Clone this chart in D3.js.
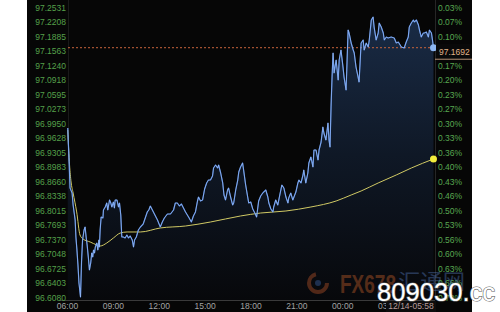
<!DOCTYPE html>
<html><head><meta charset="utf-8">
<script src="https://cdn.jsdelivr.net/npm/d3@7/dist/d3.min.js"></script>
<style>html,body{margin:0;padding:0;background:#fff;}svg{display:block}</style>
</head><body><svg id="c" width="500" height="312"></svg>
<script>
// ---- data ----
const priceTicks = [97.2531,97.2208,97.1885,97.1563,97.1240,97.0918,97.0595,97.0273,96.9950,96.9628,96.9305,96.8983,96.8660,96.8338,96.8015,96.7693,96.7370,96.7048,96.6725,96.6403,96.6080];
const pctLabels = ["0.03%","0.07%","0.10%","0.13%","0.17%","0.20%","0.23%","0.27%","0.30%","0.33%","0.36%","0.40%","0.43%","0.46%","0.50%","0.53%","0.56%","0.60%","0.63%","0.66%","0.70%"];
const timeTicks = [0,180,360,540,720,900,1080,1260];
const timeLabels = ["06:00","09:00","12:00","15:00","18:00","21:00","00:00","03:00"];
const lastPrice = 97.1692;
const lastStamp = "12/14-05:58";
// minutes since 06:00
const priceMinutes = [3,8,12,20,24,32,35,39,43,47,53,57,61,67,71,75,79,84,88,93,97,101,104,108,111,117,121,125,127,130,134,141,143,150,156,160,167,172,176,182,186,189,196,202,206,211,215,221,228,235,241,248,256,261,265,272,280,288,299,307,315,321,327,335,343,355,366,374,382,394,406,418,425,433,441,449,457,465,477,488,496,504,512,516,524,532,540,548,555,563,571,575,583,591,595,603,611,616,622,630,634,642,650,654,662,670,674,681,689,693,701,709,713,721,729,737,744,752,760,768,780,788,792,800,808,811,819,827,835,843,851,859,867,870,878,886,898,906,910,918,926,929,937,945,949,957,965,969,977,985,989,997,1004,1008,1016,1024,1028,1032,1036,1040,1044,1048,1056,1064,1068,1075,1083,1087,1095,1103,1107,1115,1123,1127,1134,1142,1146,1154,1162,1166,1174,1182,1186,1194,1201,1205,1213,1221,1225,1233,1241,1245,1253,1260,1272,1284,1292,1300,1312,1323,1331,1339,1343,1351,1359,1363,1371,1379,1383,1390,1398,1402,1410,1418,1422,1430,1434,1438];
const priceValues = [96.9906,96.9194,96.8571,96.8460,96.8193,96.7860,96.7481,96.7192,96.6859,96.6458,96.6147,96.6925,96.7415,96.7637,96.7704,96.7481,96.7304,96.7014,96.6747,96.6903,96.7126,96.7037,96.7192,96.7126,96.7259,96.7348,96.7192,96.7415,96.7259,96.7637,96.7926,96.7904,96.8082,96.8149,96.8238,96.8082,96.8305,96.8238,96.8149,96.8260,96.8127,96.8305,96.8305,96.8149,96.8238,96.7971,96.7481,96.7481,96.7459,96.7526,96.7459,96.7504,96.7415,96.7259,96.7415,96.7481,96.7637,96.7704,96.7771,96.7904,96.8038,96.8082,96.8171,96.8082,96.7993,96.7860,96.7704,96.7815,96.7904,96.7993,96.7993,96.8082,96.8238,96.8238,96.8171,96.8216,96.8127,96.8038,96.7926,96.7815,96.7949,96.8038,96.8282,96.8371,96.8282,96.8305,96.8549,96.8683,96.8749,96.8749,96.8838,96.9016,96.9083,96.9016,96.9083,96.8905,96.8683,96.8416,96.8305,96.8527,96.8571,96.8371,96.8193,96.8238,96.8527,96.8749,96.8927,96.9039,96.9128,96.8972,96.8638,96.8371,96.8238,96.8260,96.8104,96.8015,96.7926,96.8282,96.8394,96.8460,96.8527,96.8371,96.8238,96.8104,96.8038,96.8149,96.8305,96.8193,96.8416,96.8638,96.8571,96.8371,96.8238,96.8349,96.8460,96.8305,96.8482,96.8683,96.8749,96.8683,96.8861,96.8972,96.8683,96.8905,96.9128,96.9261,96.9039,96.9417,96.9417,96.9194,96.9417,96.9595,96.9928,96.9795,96.9639,97.0017,96.9639,96.9484,97.0373,97.1041,97.1575,97.1130,97.1419,97.0974,97.1419,97.1641,97.1263,97.1041,97.0752,97.2086,97.2019,97.1797,97.1641,97.1575,97.1263,97.1041,97.0929,97.1797,97.1864,97.1641,97.1797,97.1708,97.1864,97.2309,97.2375,97.2153,97.1864,97.2019,97.2242,97.2153,97.2019,97.1864,97.1930,97.1908,97.1930,97.1908,97.1797,97.1819,97.1708,97.1686,97.1819,97.1930,97.2153,97.2242,97.2309,97.2264,97.2309,97.2197,97.2086,97.1930,97.2019,97.2019,97.2042,97.1930,97.2086,97.2019,97.1864,97.1692];
const maMinutes = [3,10,16,24,38,51,63,91,117,130,156,182,209,236,288,366,465,563,681,760,859,957,1056,1115,1154,1221,1292,1351,1438];
const maValues = [96.9862,96.9083,96.8705,96.8460,96.8038,96.7526,96.7437,96.7370,96.7304,96.7281,96.7348,96.7459,96.7570,96.7593,96.7593,96.7682,96.7726,96.7815,96.7949,96.8015,96.8060,96.8149,96.8282,96.8416,96.8505,96.8683,96.8861,96.9016,96.9217];

// ---- drawing ----
const svg = d3.select("#c");
const FONT = "'Liberation Sans', Arial, sans-serif";
svg.append("rect").attr("x",27).attr("y",0).attr("width",445).attr("height",312).attr("fill","#060606");

const x = d3.scaleLinear().domain([0,1440]).range([67,434]);
const y = d3.scaleLinear().domain([96.6080,97.2531]).range([300,10]);

const defs = svg.append("defs");
const g = defs.append("linearGradient").attr("id","ag").attr("gradientUnits","userSpaceOnUse")
  .attr("x1",0).attr("y1",10).attr("x2",0).attr("y2",300);
g.append("stop").attr("offset","0%").attr("stop-color","#1a2c47");
g.append("stop").attr("offset","50%").attr("stop-color","#0f1826");
g.append("stop").attr("offset","100%").attr("stop-color","#07080b");

const price = priceMinutes.map((m,i)=>({m, p: priceValues[i]}));
const ma = maMinutes.map((m,i)=>({m, p: maValues[i]}));

// frame lines
svg.append("line").attr("x1",68.5).attr("x2",68.5).attr("y1",0).attr("y2",300).attr("stroke","#1a1a1a");
svg.append("line").attr("x1",435.5).attr("x2",435.5).attr("y1",0).attr("y2",300).attr("stroke","#262626");
svg.append("line").attr("x1",60).attr("x2",435).attr("y1",300.5).attr("y2",300.5).attr("stroke","#3a3a3a");

svg.append("path").datum(price)
  .attr("d", d3.area().x(d=>x(d.m)).y0(300).y1(d=>y(d.p)))
  .attr("fill","url(#ag)");

svg.append("line").attr("x1",x(0)+1).attr("x2",x(1438)).attr("y1",y(lastPrice)).attr("y2",y(lastPrice))
  .attr("stroke","#c8643c").attr("stroke-dasharray","2,2").attr("stroke-width",1);

svg.append("path").datum(ma)
  .attr("d", d3.line().x(d=>x(d.m)).y(d=>y(d.p)).curve(d3.curveMonotoneX))
  .attr("fill","none").attr("stroke","#d0c964").attr("stroke-width",1);

svg.append("path").datum(price)
  .attr("d", d3.line().x(d=>x(d.m)).y(d=>y(d.p)))
  .attr("fill","none").attr("stroke","#5587dc").attr("stroke-width",1.2).attr("stroke-linejoin","round");
svg.append("path").datum(price)
  .attr("d", d3.line().x(d=>x(d.m)).y(d=>y(d.p)))
  .attr("fill","none").attr("stroke","#a9c7fa").attr("stroke-width",0.5).attr("stroke-linejoin","round");

const lp = price[price.length-1], lm = ma[ma.length-1];
svg.append("circle").attr("cx",x(lp.m)).attr("cy",y(lp.p)).attr("r",3.5).attr("fill","#8db6f2");
svg.append("circle").attr("cx",x(lm.m)).attr("cy",y(lm.p)).attr("r",3.5).attr("fill","#f2ee3c");

// axes
function styleAxis(sel, color){
  sel.select(".domain").remove();
  sel.selectAll("text").attr("fill",color).style("font-family",FONT).style("font-size","8.5px");
}
const left = svg.append("g").attr("transform","translate(68,0)")
  .call(d3.axisLeft(y).tickValues(priceTicks).tickFormat(d3.format(".4f")).tickSize(0).tickPadding(2));
styleAxis(left,"#55a04a");
left.selectAll("text").attr("dy","0em");

const right = svg.append("g").attr("transform","translate(435,0)")
  .call(d3.axisRight(y).tickValues(priceTicks).tickFormat((d,i)=>pctLabels[i]).tickSize(0).tickPadding(3));
styleAxis(right,"#58a650");
right.selectAll("text").attr("dy","0em");

const bottom = svg.append("g").attr("transform","translate(0,300)")
  .call(d3.axisBottom(x).tickValues(timeTicks).tickFormat((d,i)=>timeLabels[i]).tickSize(0).tickPadding(3));
styleAxis(bottom,"#a3a3a3");

// current price tag
const ty = y(lastPrice);
svg.append("rect").attr("x",436).attr("y",ty-4).attr("width",36).attr("height",15).attr("fill","#090909");
svg.append("line").attr("x1",435).attr("x2",472).attr("y1",ty+11.5).attr("y2",ty+11.5).attr("stroke","#b89478");
svg.append("text").attr("x",439).attr("y",ty+7.5).text(lastPrice.toFixed(4))
  .attr("fill","#e2b48a").style("font-family",FONT).style("font-size","8.5px");

// time stamp tag
svg.append("rect").attr("x",386).attr("y",301).attr("width",50).attr("height",11).attr("fill","#0d0d0d");
svg.append("text").attr("x",411).attr("y",309).attr("text-anchor","middle").text(lastStamp)
  .attr("fill","#b89c9c").style("font-family",FONT).style("font-size","8.5px");

// watermarks
const wm = svg.append("g");
wm.append("circle").attr("cx",318).attr("cy",283).attr("r",9).attr("fill","none")
  .attr("stroke","#c0582a").attr("stroke-width",4).attr("opacity",0.4).attr("stroke-dasharray","40,17");
wm.append("circle").attr("cx",318).attr("cy",283).attr("r",3).attr("fill","#3a5fa0").attr("opacity",0.45);
wm.append("text").attr("x",340).attr("y",293).text("FX678")
  .attr("textLength",56).attr("lengthAdjust","spacingAndGlyphs")
  .attr("fill","#c8602a").attr("opacity",0.4).style("font-family",FONT).style("font-weight","bold").style("font-size","25px");
wm.append("text").attr("x",398).attr("y",289).text("汇通网")
  .attr("textLength",67).attr("lengthAdjust","spacingAndGlyphs")
  .attr("fill","#5a82c8").attr("opacity",0.38).style("font-family","'Noto Sans CJK SC', sans-serif").style("font-size","21px");
svg.append("text").attr("x",377).attr("y",301).text("809030.cc")
  .attr("fill","#ffffff").attr("stroke","#6a6a6a").attr("stroke-width",1.2).style("paint-order","stroke")
  .style("font-family",FONT).style("font-size","25.6px");
</script></body></html>
